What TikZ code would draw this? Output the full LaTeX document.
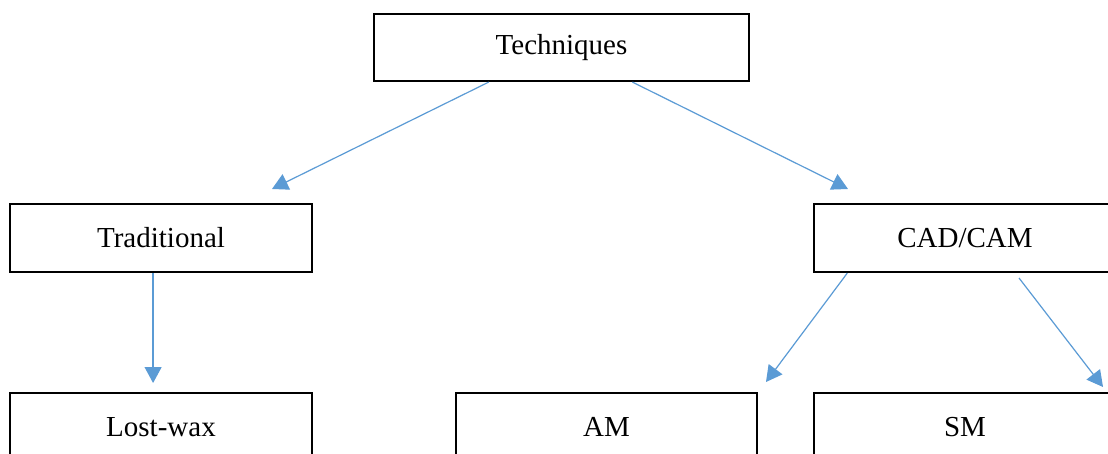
\documentclass[tikz,border=0pt]{standalone}
\usepackage{fontspec}
\setmainfont{Liberation Serif}
\usetikzlibrary{arrows.meta,calc}
\definecolor{arrowblue}{HTML}{5B9BD5}
\begin{document}
\begin{tikzpicture}[x=1pt,y=-1pt,
  box/.style={draw=black,line width=2.2pt,rectangle,inner sep=0pt,
    minimum height=68pt,font=\fontsize{29}{35}\selectfont},
  conn/.style={draw=arrowblue,line width=1.2pt,
    -{Triangle[length=16pt,width=17pt]}}]
\useasboundingbox (0,0) rectangle (1108,454);
\clip (0,0) rectangle (1108,454);
\fill[white] (0,0) rectangle (1108,454);
\node[box,minimum width=375pt,minimum height=67pt] (tech) at (561.5,47.5) {Techniques};
\node[box,minimum width=302pt] (trad) at (161,238) {Traditional};
\node[box,minimum width=302pt] (cad) at (965,238) {CAD/CAM};
\node[box,minimum width=302pt] (lost) at (161,427) {Lost-wax};
\node[box,minimum width=301pt] (am) at (606.5,427) {AM};
\node[box,minimum width=302pt] (sm) at (965,427) {SM};
\coordinate (s1) at ($(tech.south west)!0.307!(tech.south east)$);
\coordinate (s2) at ($(tech.south west)!0.688!(tech.south east)$);
\coordinate (t1) at (272,189);
\coordinate (t2) at (848,189);
\coordinate (s3) at ($(cad.south west)!0.113!(cad.south east)$);
\coordinate (t3) at (766,382);
\coordinate (s4) at (1019,278);
\coordinate (t4) at (1103,387);
\coordinate (s5) at ($(trad.south west)!0.474!(trad.south east)$);
\coordinate (t5) at (s5 |- 0,383);
\draw[conn] (s1) -- (t1);
\draw[conn] (s2) -- (t2);
\draw[conn] (s5) -- (t5);
\draw[conn] (s3) -- (t3);
\draw[conn] (s4) -- (t4);
\end{tikzpicture}
\end{document}
